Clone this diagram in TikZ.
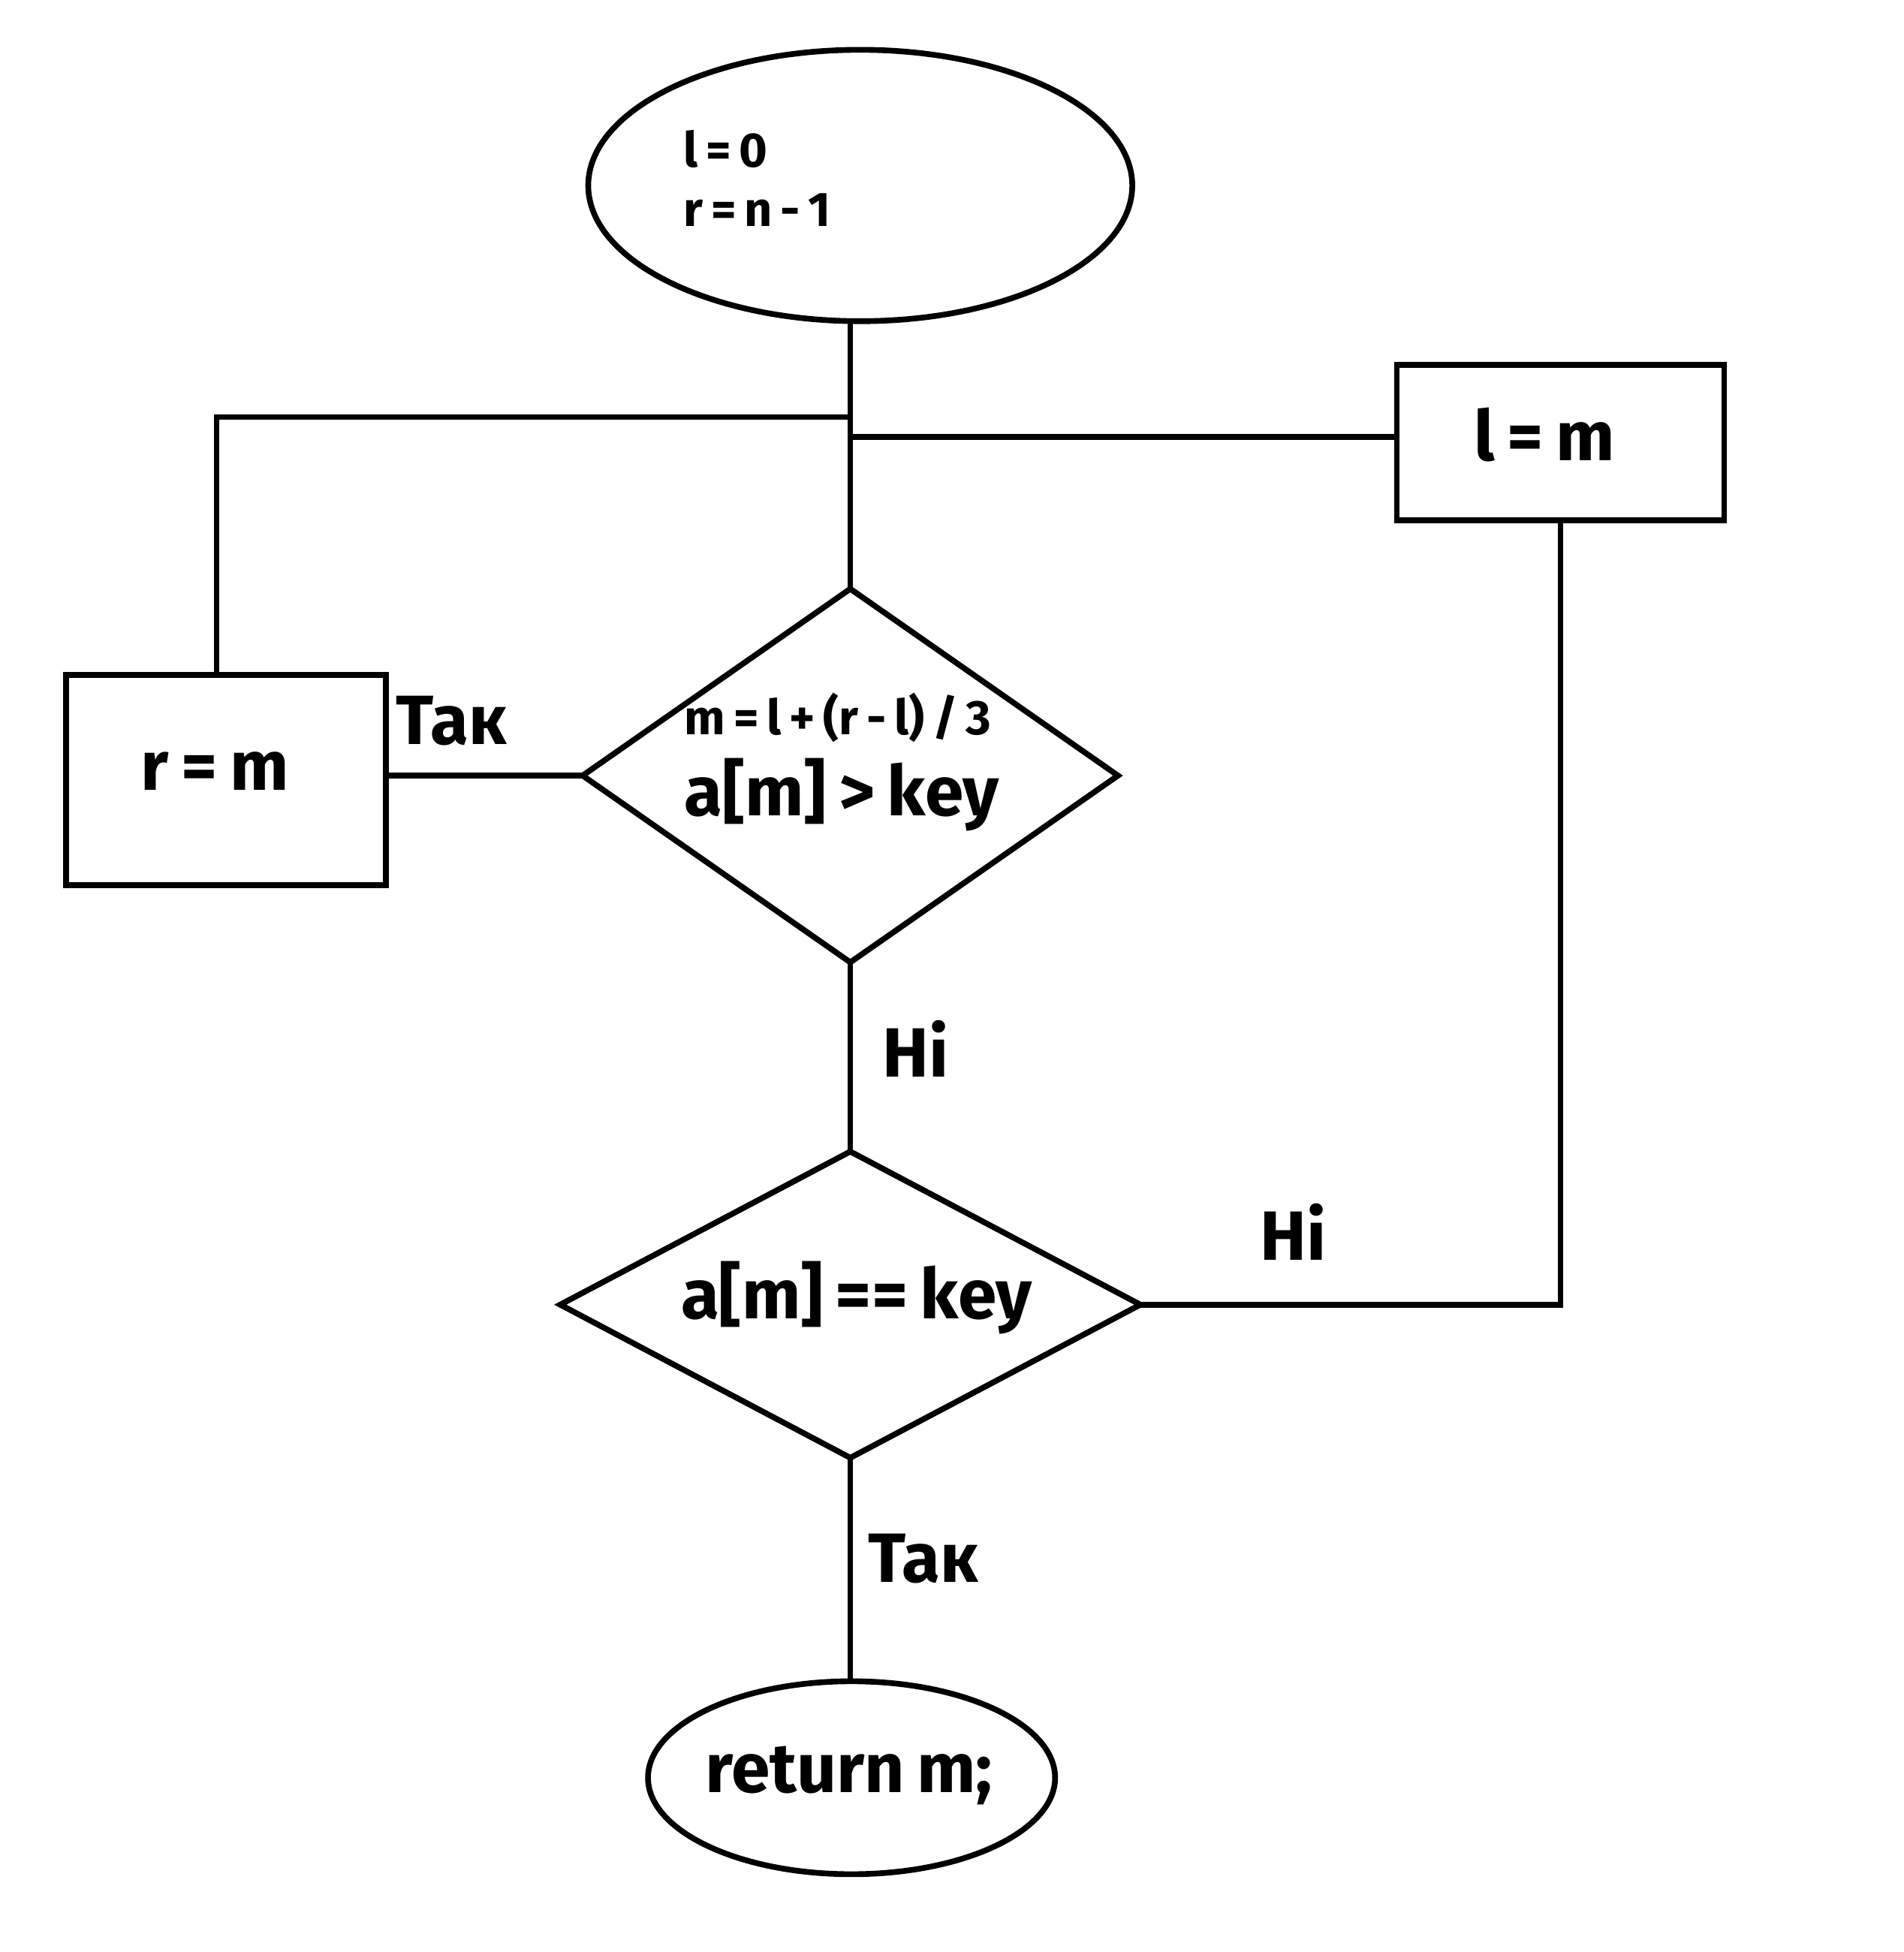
\documentclass[tikz,border=0pt]{standalone}
\usepackage{fontspec}
\setmainfont{Fira Sans}[WordSpace=0.75]
\newfontfamily\smallfont{Fira Sans}[WordSpace=0.7]
\usetikzlibrary{shapes.geometric}
\begin{document}
\begin{tikzpicture}[x=1pt,y=-1pt,
  ln/.style={line width=4.6pt},
  shp/.style={draw, line width=4.6pt, inner sep=0pt, outer sep=0pt},
  big/.style={font=\fontsize{56}{67}\selectfont\bfseries, inner sep=0pt},
  small/.style={font=\smallfont\fontsize{39}{49}\selectfont\bfseries, inner sep=0pt}]
\useasboundingbox[fill=white] (0,0) rectangle (1529,1568);

% shapes
\node[shp, ellipse, minimum width=437pt, minimum height=218pt] (start) at (691,149) {};
\node[shp, diamond, minimum width=430pt, minimum height=300pt] (d1) at (683,623) {};
\node[shp, diamond, minimum width=466pt, minimum height=246pt] (d2) at (683,1048) {};
\node[shp, ellipse, minimum width=327pt, minimum height=155pt] (stop) at (684,1428) {};
\node[shp, rectangle, minimum width=257pt, minimum height=169pt] (rm) at (181.5,626.5) {};
\node[shp, rectangle, minimum width=263pt, minimum height=125pt] (lm) at (1253.5,355.5) {};

% texts
\node[small, anchor=base west] (t1) at (549,134) {l = 0};
\node[small, anchor=base west] (t2) at (549,182) {r = n - 1};
\node[small, anchor=base] (t3) at (673,590) {m = l + (r - l) / 3};
\node[big, anchor=base] (t4) at (676,655) {a[m] > key};
\node[big, anchor=base west] (t5) at (113,635) {r = m};
\node[big, anchor=base west] (t6) at (1184,370) {l = m};
\node[big, anchor=base] (t7) at (688,1059) {a[m] == key};
\node[big, anchor=base] (t8) at (682,1440) {return m;};

% connector labels
\node[big, anchor=base west] (y1) at (318,598) {Так};
\node[big, anchor=base west] (n1) at (709,865) {Ні};
\node[big, anchor=base west] (n2) at (1012,1012) {Ні};
\node[big, anchor=base west] (y2) at (697,1271) {Так};

% junctions
\coordinate (jl) at (683,335);
\coordinate (jr) at (683,351);
\coordinate (rmtop) at (174,542);

% connectors
\draw[ln] (d1.north |- start.south) -- (d1.north);
\draw[ln] (jl) -| (rmtop);
\draw[ln] (jr) -- (jr -| lm.west);
\draw[ln] (lm.south) |- (d2.east);
\draw[ln] (d1.west) -- (d1.west -| rm.east);
\draw[ln] (d1.south) -- (d2.north);
\draw[ln] (d2.south) -- (d2.south |- stop.north);
\end{tikzpicture}
\end{document}
